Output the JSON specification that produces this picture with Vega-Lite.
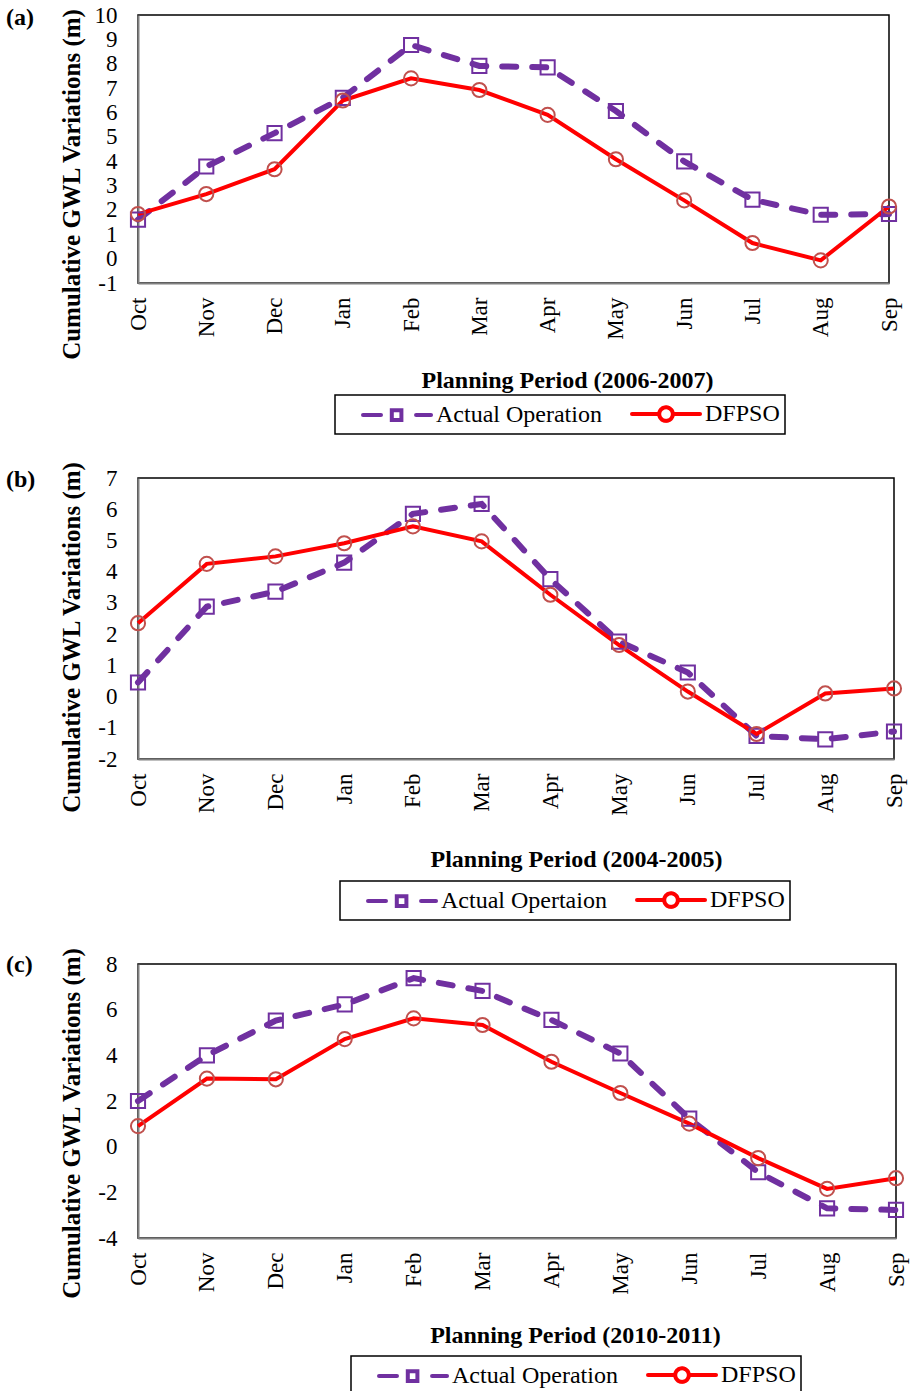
{
  "$schema": "https://vega.github.io/schema/vega-lite/v6.json",
  "background": "white",
  "padding": {"left": 5, "top": 3, "right": 5, "bottom": 0},
  "spacing": 20,
  "config": {
    "font": "Liberation Serif",
    "view": {"stroke": "black", "strokeWidth": 1.5},
    "axis": {
      "grid": false, "ticks": false, "tickSize": 0,
      "domainColor": "#808080", "domainWidth": 2,
      "labelFont": "Liberation Serif", "labelFontSize": 23, "labelColor": "black",
      "titleFont": "Liberation Serif", "titleFontSize": 24, "titleFontWeight": "bold", "titleColor": "black"
    },
    "axisY": {"labelExpr": "replace(datum.label, '\u2212', '-')", "titleFontSize": 25},
    "legend": {"strokeWidth": 1.5, "strokeColor": "black", "padding": 5, "title": null, "orient": "none", "direction": "horizontal",
      "labelFont": "Liberation Serif", "labelFontSize": 24, "labelColor": "black", "labelLimit": 0,
      "symbolSize": 576, "symbolStrokeWidth": 4, "columnPadding": 7, "labelOffset": 68},
    "title": {"font": "Liberation Serif", "fontSize": 24, "fontWeight": "bold", "color": "black", "anchor": "start", "frame": "bounds", "offset": 0}
  },
  "resolve": {
    "scale": {"x": "independent", "y": "independent", "color": "independent"},
    "legend": {"color": "independent"}
  },
  "vconcat": [
    {
      "width": 751, "height": 268,
      "title": {"text": "(a)", "dx": -53, "dy": 30},
      "data": {"values": [
        {"month": "Oct", "series": "Actual Operation", "value": 1.6},
        {"month": "Nov", "series": "Actual Operation", "value": 3.78},
        {"month": "Dec", "series": "Actual Operation", "value": 5.15},
        {"month": "Jan", "series": "Actual Operation", "value": 6.6},
        {"month": "Feb", "series": "Actual Operation", "value": 8.77},
        {"month": "Mar", "series": "Actual Operation", "value": 7.91},
        {"month": "Apr", "series": "Actual Operation", "value": 7.85},
        {"month": "May", "series": "Actual Operation", "value": 6.06},
        {"month": "Jun", "series": "Actual Operation", "value": 3.99},
        {"month": "Jul", "series": "Actual Operation", "value": 2.42},
        {"month": "Aug", "series": "Actual Operation", "value": 1.8},
        {"month": "Sep", "series": "Actual Operation", "value": 1.83},
        {"month": "Oct", "series": "DFPSO", "value": 1.83},
        {"month": "Nov", "series": "DFPSO", "value": 2.65},
        {"month": "Dec", "series": "DFPSO", "value": 3.67},
        {"month": "Jan", "series": "DFPSO", "value": 6.49},
        {"month": "Feb", "series": "DFPSO", "value": 7.4},
        {"month": "Mar", "series": "DFPSO", "value": 6.92},
        {"month": "Apr", "series": "DFPSO", "value": 5.9},
        {"month": "May", "series": "DFPSO", "value": 4.08},
        {"month": "Jun", "series": "DFPSO", "value": 2.39},
        {"month": "Jul", "series": "DFPSO", "value": 0.64},
        {"month": "Aug", "series": "DFPSO", "value": -0.07},
        {"month": "Sep", "series": "DFPSO", "value": 2.14}
      ]},
      "encoding": {
        "x": {"field": "month", "type": "ordinal", "sort": ["Oct","Nov","Dec","Jan","Feb","Mar","Apr","May","Jun","Jul","Aug","Sep"],
              "scale": {"type": "point", "padding": 0},
              "axis": {"labelAngle": -90, "labelPadding": 14, "title": "Planning Period (2006-2007)", "titleX": 429, "titleY": 85, "titleBaseline": "top", "titleAlign": "center"}},
        "y": {"field": "value", "type": "quantitative",
              "scale": {"domain": [-1, 10], "nice": false, "zero": false},
              "axis": {"values": [-1,0,1,2,3,4,5,6,7,8,9,10], "labelPadding": 21, "title": "Cumulative GWL  Variations (m)", "titleX": -67, "titleY": 169, "titleAngle": -90, "titleBaseline": "middle", "titleAlign": "center"}}
      },
      "layer": [
        {"transform": [{"filter": "datum.series !== 'DFPSO'"}],
         "mark": {"type": "line", "strokeWidth": 6, "strokeCap": "round", "strokeDash": [14, 16]},
         "encoding": {"color": {"field": "series", "type": "nominal", "scale": {"domain": ["Actual Operation", "DFPSO"], "range": ["#7030A0", "#FF0000"]},
           "legend": {"legendX": 197, "legendY": 380,
             "encode": {"symbols": {"update": {
               "shape": {"signal": "datum.value === 'DFPSO' ? 'M0.75,0H3.02M4.15,0H6.42M3.02,0A0.565,0.565 0 1,0 4.15,0A0.565,0.565 0 1,0 3.02,0' : 'M0.75,0H2.25M3.15,-0.4H3.95V0.4H3.15ZM5.17,0H6.42'"},
               "stroke": {"signal": "datum.value === 'DFPSO' ? '#FF0000' : '#7030A0'"},
               "strokeDash": {"value": [1, 0]},
               "strokeCap": {"value": "round"},
               "fill": {"value": "transparent"},
               "strokeWidth": {"value": 4}}}}}}}},
        {"transform": [{"filter": "datum.series === 'DFPSO'"}],
         "mark": {"type": "line", "strokeWidth": 4},
         "encoding": {"color": {"field": "series", "type": "nominal", "scale": {"domain": ["Actual Operation", "DFPSO"], "range": ["#7030A0", "#FF0000"]}}}},
        {"transform": [{"filter": "datum.series !== 'DFPSO'"}],
         "mark": {"type": "point", "shape": "square", "filled": false, "color": "#7030A0", "size": 200, "strokeWidth": 2, "opacity": 1}},
        {"transform": [{"filter": "datum.series === 'DFPSO'"}],
         "mark": {"type": "point", "shape": "circle", "filled": false, "color": "#C0504D", "size": 200, "strokeWidth": 2, "opacity": 1}}
      ]
    },
    {
      "width": 756, "height": 281,
      "title": {"text": "(b)", "dx": -53, "dy": 38},
      "data": {"values": [
        {"month": "Oct", "series": "Actual Opertaion", "value": 0.45},
        {"month": "Nov", "series": "Actual Opertaion", "value": 2.88},
        {"month": "Dec", "series": "Actual Opertaion", "value": 3.36},
        {"month": "Jan", "series": "Actual Opertaion", "value": 4.29},
        {"month": "Feb", "series": "Actual Opertaion", "value": 5.85},
        {"month": "Mar", "series": "Actual Opertaion", "value": 6.17},
        {"month": "Apr", "series": "Actual Opertaion", "value": 3.76},
        {"month": "May", "series": "Actual Opertaion", "value": 1.76},
        {"month": "Jun", "series": "Actual Opertaion", "value": 0.77},
        {"month": "Jul", "series": "Actual Opertaion", "value": -1.26},
        {"month": "Aug", "series": "Actual Opertaion", "value": -1.37},
        {"month": "Sep", "series": "Actual Opertaion", "value": -1.12},
        {"month": "Oct", "series": "DFPSO", "value": 2.35},
        {"month": "Nov", "series": "DFPSO", "value": 4.25},
        {"month": "Dec", "series": "DFPSO", "value": 4.49},
        {"month": "Jan", "series": "DFPSO", "value": 4.91},
        {"month": "Feb", "series": "DFPSO", "value": 5.45},
        {"month": "Mar", "series": "DFPSO", "value": 4.97},
        {"month": "Apr", "series": "DFPSO", "value": 3.26},
        {"month": "May", "series": "DFPSO", "value": 1.65},
        {"month": "Jun", "series": "DFPSO", "value": 0.16},
        {"month": "Jul", "series": "DFPSO", "value": -1.2},
        {"month": "Aug", "series": "DFPSO", "value": 0.1},
        {"month": "Sep", "series": "DFPSO", "value": 0.26}
      ]},
      "encoding": {
        "x": {"field": "month", "type": "ordinal", "sort": ["Oct","Nov","Dec","Jan","Feb","Mar","Apr","May","Jun","Jul","Aug","Sep"],
              "scale": {"type": "point", "padding": 0},
              "axis": {"labelAngle": -90, "labelPadding": 14, "title": "Planning Period (2004-2005)", "titleX": 438, "titleY": 88, "titleBaseline": "top", "titleAlign": "center"}},
        "y": {"field": "value", "type": "quantitative",
              "scale": {"domain": [-2, 7], "nice": false, "zero": false},
              "axis": {"values": [-2,-1,0,1,2,3,4,5,6,7], "labelPadding": 21, "title": "Cumulative GWL  Variations (m)", "titleX": -67, "titleY": 159, "titleAngle": -90, "titleBaseline": "middle", "titleAlign": "center"}}
      },
      "layer": [
        {"transform": [{"filter": "datum.series !== 'DFPSO'"}],
         "mark": {"type": "line", "strokeWidth": 6, "strokeCap": "round", "strokeDash": [14, 16]},
         "encoding": {"color": {"field": "series", "type": "nominal", "scale": {"domain": ["Actual Opertaion", "DFPSO"], "range": ["#7030A0", "#FF0000"]},
           "legend": {"legendX": 202, "legendY": 403,
             "encode": {"symbols": {"update": {
               "shape": {"signal": "datum.value === 'DFPSO' ? 'M0.75,0H3.02M4.15,0H6.42M3.02,0A0.565,0.565 0 1,0 4.15,0A0.565,0.565 0 1,0 3.02,0' : 'M0.75,0H2.25M3.15,-0.4H3.95V0.4H3.15ZM5.17,0H6.42'"},
               "stroke": {"signal": "datum.value === 'DFPSO' ? '#FF0000' : '#7030A0'"},
               "strokeDash": {"value": [1, 0]},
               "strokeCap": {"value": "round"},
               "fill": {"value": "transparent"},
               "strokeWidth": {"value": 4}}}}}}}},
        {"transform": [{"filter": "datum.series === 'DFPSO'"}],
         "mark": {"type": "line", "strokeWidth": 4},
         "encoding": {"color": {"field": "series", "type": "nominal", "scale": {"domain": ["Actual Opertaion", "DFPSO"], "range": ["#7030A0", "#FF0000"]}}}},
        {"transform": [{"filter": "datum.series !== 'DFPSO'"}],
         "mark": {"type": "point", "shape": "square", "filled": false, "color": "#7030A0", "size": 200, "strokeWidth": 2, "opacity": 1}},
        {"transform": [{"filter": "datum.series === 'DFPSO'"}],
         "mark": {"type": "point", "shape": "circle", "filled": false, "color": "#C0504D", "size": 200, "strokeWidth": 2, "opacity": 1}}
      ]
    },
    {
      "width": 758, "height": 274,
      "title": {"text": "(c)", "dx": -53, "dy": 37},
      "data": {"values": [
        {"month": "Oct", "series": "Actual Operation", "value": 2.0},
        {"month": "Nov", "series": "Actual Operation", "value": 4.0},
        {"month": "Dec", "series": "Actual Operation", "value": 5.52},
        {"month": "Jan", "series": "Actual Operation", "value": 6.23},
        {"month": "Feb", "series": "Actual Operation", "value": 7.38},
        {"month": "Mar", "series": "Actual Operation", "value": 6.82},
        {"month": "Apr", "series": "Actual Operation", "value": 5.55},
        {"month": "May", "series": "Actual Operation", "value": 4.08},
        {"month": "Jun", "series": "Actual Operation", "value": 1.23},
        {"month": "Jul", "series": "Actual Operation", "value": -1.12},
        {"month": "Aug", "series": "Actual Operation", "value": -2.7},
        {"month": "Sep", "series": "Actual Operation", "value": -2.77},
        {"month": "Oct", "series": "DFPSO", "value": 0.9},
        {"month": "Nov", "series": "DFPSO", "value": 2.98},
        {"month": "Dec", "series": "DFPSO", "value": 2.95},
        {"month": "Jan", "series": "DFPSO", "value": 4.71},
        {"month": "Feb", "series": "DFPSO", "value": 5.62},
        {"month": "Mar", "series": "DFPSO", "value": 5.33},
        {"month": "Apr", "series": "DFPSO", "value": 3.72},
        {"month": "May", "series": "DFPSO", "value": 2.35},
        {"month": "Jun", "series": "DFPSO", "value": 1.01},
        {"month": "Jul", "series": "DFPSO", "value": -0.5},
        {"month": "Aug", "series": "DFPSO", "value": -1.85},
        {"month": "Sep", "series": "DFPSO", "value": -1.38}
      ]},
      "encoding": {
        "x": {"field": "month", "type": "ordinal", "sort": ["Oct","Nov","Dec","Jan","Feb","Mar","Apr","May","Jun","Jul","Aug","Sep"],
              "scale": {"type": "point", "padding": 0},
              "axis": {"labelAngle": -90, "labelPadding": 14, "title": "Planning Period (2010-2011)", "titleX": 437, "titleY": 85, "titleBaseline": "top", "titleAlign": "center"}},
        "y": {"field": "value", "type": "quantitative",
              "scale": {"domain": [-4, 8], "nice": false, "zero": false},
              "axis": {"values": [-4,-2,0,2,4,6,8], "labelPadding": 21, "title": "Cumulative GWL  Variations (m)", "titleX": -67, "titleY": 159, "titleAngle": -90, "titleBaseline": "middle", "titleAlign": "center"}}
      },
      "layer": [
        {"transform": [{"filter": "datum.series !== 'DFPSO'"}],
         "mark": {"type": "line", "strokeWidth": 6, "strokeCap": "round", "strokeDash": [14, 16]},
         "encoding": {"color": {"field": "series", "type": "nominal", "scale": {"domain": ["Actual Operation", "DFPSO"], "range": ["#7030A0", "#FF0000"]},
           "legend": {"legendX": 213, "legendY": 392,
             "encode": {"symbols": {"update": {
               "shape": {"signal": "datum.value === 'DFPSO' ? 'M0.75,0H3.02M4.15,0H6.42M3.02,0A0.565,0.565 0 1,0 4.15,0A0.565,0.565 0 1,0 3.02,0' : 'M0.75,0H2.25M3.15,-0.4H3.95V0.4H3.15ZM5.17,0H6.42'"},
               "stroke": {"signal": "datum.value === 'DFPSO' ? '#FF0000' : '#7030A0'"},
               "strokeDash": {"value": [1, 0]},
               "strokeCap": {"value": "round"},
               "fill": {"value": "transparent"},
               "strokeWidth": {"value": 4}}}}}}}},
        {"transform": [{"filter": "datum.series === 'DFPSO'"}],
         "mark": {"type": "line", "strokeWidth": 4},
         "encoding": {"color": {"field": "series", "type": "nominal", "scale": {"domain": ["Actual Operation", "DFPSO"], "range": ["#7030A0", "#FF0000"]}}}},
        {"transform": [{"filter": "datum.series !== 'DFPSO'"}],
         "mark": {"type": "point", "shape": "square", "filled": false, "color": "#7030A0", "size": 200, "strokeWidth": 2, "opacity": 1}},
        {"transform": [{"filter": "datum.series === 'DFPSO'"}],
         "mark": {"type": "point", "shape": "circle", "filled": false, "color": "#C0504D", "size": 200, "strokeWidth": 2, "opacity": 1}}
      ]
    }
  ]
}
